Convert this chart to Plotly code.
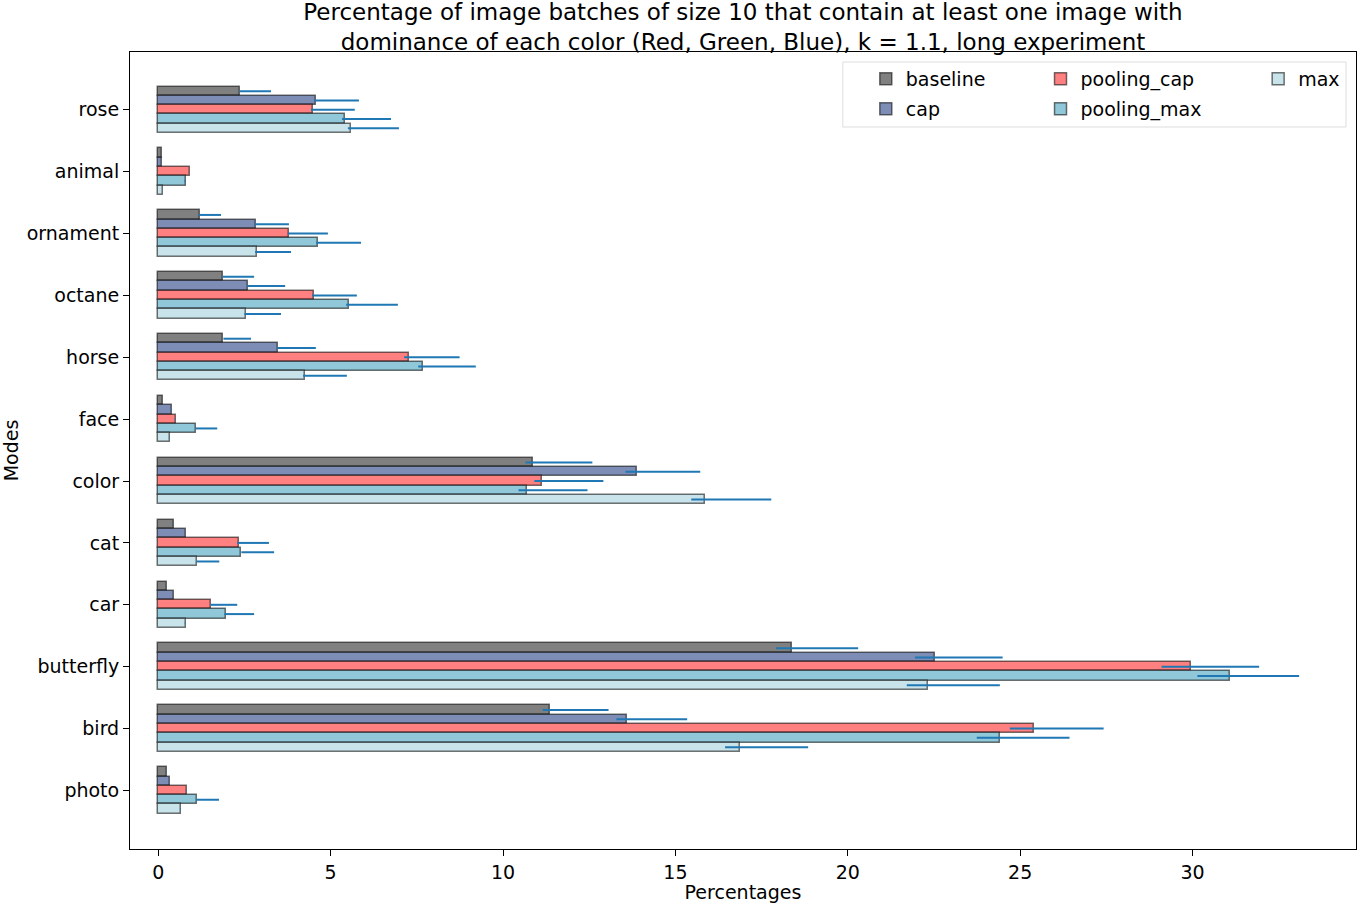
import numpy as np
import plotly.graph_objects as go

# Categories, listed top to bottom as they appear on the chart
categories = ["rose", "animal", "ornament", "octane", "horse", "face",
              "color", "cat", "car", "butterfly", "bird", "photo"]

series_names = ["baseline", "cap", "pooling_cap", "pooling_max", "max"]

baseline = [2.38, 0.11, 1.20, 1.89, 1.89, 0.15, 10.87, 0.45, 0.25, 18.37, 11.37, 0.24]
baseline_lo = [2.35, 0.11, 1.17, 1.86, 1.89, 0.15, 10.65, 0.43, 0.24, 17.92, 11.15, 0.22]
baseline_hi = [3.27, 0.11, 1.82, 2.78, 2.69, 0.15, 12.59, 0.45, 0.25, 20.30, 13.06, 0.24]

cap = [4.58, 0.11, 2.82, 2.61, 3.48, 0.39, 13.89, 0.79, 0.47, 22.54, 13.60, 0.33]
cap_lo = [4.52, 0.11, 2.79, 2.58, 3.45, 0.37, 13.55, 0.79, 0.47, 21.95, 13.29, 0.31]
cap_hi = [5.82, 0.11, 3.79, 3.68, 4.57, 0.39, 15.72, 0.79, 0.47, 24.49, 15.34, 0.33]

pooling_cap = [4.50, 0.91, 3.80, 4.53, 7.28, 0.50, 11.13, 2.33, 1.54, 29.95, 25.41, 0.82]
pooling_cap_lo = [4.43, 0.91, 3.76, 4.46, 7.13, 0.48, 10.91, 2.29, 1.51, 29.10, 24.70, 0.80]
pooling_cap_hi = [5.70, 0.91, 4.92, 5.76, 8.74, 0.50, 12.91, 3.21, 2.29, 31.93, 27.42, 0.82]

pooling_max = [5.42, 0.79, 4.64, 5.54, 7.68, 1.08, 10.69, 2.41, 1.95, 31.08, 24.42, 1.11]
pooling_max_lo = [5.33, 0.76, 4.58, 5.45, 7.54, 1.08, 10.45, 2.41, 1.92, 30.14, 23.74, 1.11]
pooling_max_hi = [6.75, 0.79, 5.88, 6.95, 9.21, 1.71, 12.45, 3.36, 2.78, 33.09, 26.43, 1.76]

max_vals = [5.60, 0.13, 2.85, 2.53, 4.27, 0.33, 15.85, 1.11, 0.79, 22.33, 16.86, 0.65]
max_lo = [5.50, 0.13, 2.81, 2.50, 4.20, 0.31, 15.46, 1.11, 0.77, 21.71, 16.44, 0.63]
max_hi = [6.98, 0.13, 3.85, 3.56, 5.47, 0.33, 17.78, 1.77, 0.79, 24.41, 18.85, 0.65]

x_ticks = [0, 5, 10, 15, 20, 25, 30]

values = [baseline, cap, pooling_cap, pooling_max, max_vals]
lows = [baseline_lo, cap_lo, pooling_cap_lo, pooling_max_lo, max_lo]
highs = [baseline_hi, cap_hi, pooling_cap_hi, pooling_max_hi, max_hi]

colors = ["#808080", "#7d8db5", "#ff8080", "#90c7d9", "#c8e3ea"]
offsets = [0.3, 0.15, 0.0, -0.15, -0.3]
legend_ids = ["legend", "legend2", "legend3", "legend4", "legend5"]
bar_h = 0.15

n = len(categories)
pos = np.arange(n)[::-1]  # top category gets highest position

FONT = "DejaVu Sans"
fig = go.Figure()
for name, v, lo, hi, c, off, lg in zip(series_names, values, lows, highs, colors, offsets, legend_ids):
    v = np.array(v)
    lo = np.array(lo)
    hi = np.array(hi)
    fig.add_trace(go.Bar(
        name=name,
        orientation="h",
        x=v,
        y=pos + off,
        width=bar_h,
        marker=dict(color=c, line=dict(color="rgba(0,0,0,0.55)", width=1.5)),
        error_x=dict(type="data", symmetric=False, array=hi - v, arrayminus=v - lo,
                     color="#1f77b4", thickness=2, width=0),
        legend=lg,
        showlegend=True,
    ))

W, H = 1359, 903
L, R, T, B = 129, 2, 52, 54
pw = W - L - R
ph = H - T - B

def px_x(p):
    return (p - L) / pw

def px_y(p):
    return (H - B - p) / ph

leg_common = dict(bgcolor="rgba(0,0,0,0)", borderwidth=0, font=dict(family=FONT, size=19, color="black"),
                  xanchor="left", yanchor="top", orientation="v", tracegroupgap=0)

# legend placement: (left px, top px) for each entry, arranged in three columns
legend_px = [(866, 60), (866, 90), (1041, 60), (1041, 90), (1259, 60)]
legends = {}
for lg, (lx, ly) in zip(legend_ids, legend_px):
    legends[lg] = dict(x=px_x(lx), y=px_y(ly), **leg_common)

fig.update_layout(
    width=W, height=H, autosize=False,
    margin=dict(l=L, r=R, t=T, b=B),
    plot_bgcolor="white", paper_bgcolor="white",
    font=dict(family=FONT, size=19, color="black"),
    showlegend=True,
    title=dict(text="Percentage of image batches of size 10 that contain at least one image with<br>"
                    "dominance of each color (Red, Green, Blue), k = 1.1, long experiment",
               x=(L + pw / 2) / W, xanchor="center", xref="container",
               y=1 - 20 / H, yanchor="middle", yref="container",
               font=dict(family=FONT, size=23, color="black")),
    barmode="overlay",
    bargap=0,
    shapes=[dict(type="rect", xref="paper", yref="paper",
                 x0=px_x(843), x1=px_x(1347), y0=px_y(127), y1=px_y(62),
                 line=dict(color="#dddddd", width=1), fillcolor="rgba(255,255,255,0.8)",
                 layer="below")],
    **legends,
)

fig.update_xaxes(range=[-0.82, 34.74], tickvals=x_ticks, ticks="outside", ticklen=6,
                 tickcolor="black", showline=True, mirror=True, linecolor="black", linewidth=1,
                 showgrid=False, zeroline=False,
                 title=dict(text="Percentages", font=dict(family=FONT, size=19), standoff=4),
                 tickfont=dict(family=FONT, size=19))
fig.update_yaxes(range=[-0.946, 11.933], tickvals=pos, ticktext=categories, ticks="outside",
                 ticklen=6, tickcolor="black", showline=True, mirror=True, linecolor="black",
                 linewidth=1, showgrid=False, zeroline=False,
                 title=dict(text="Modes", font=dict(family=FONT, size=19), standoff=11),
                 tickfont=dict(family=FONT, size=19))

fig.write_html("out.html",
               config={"displayModeBar": False},
               post_script="document.body.style.margin='0';document.body.style.padding='0';"
                           "document.body.style.overflow='hidden';")
